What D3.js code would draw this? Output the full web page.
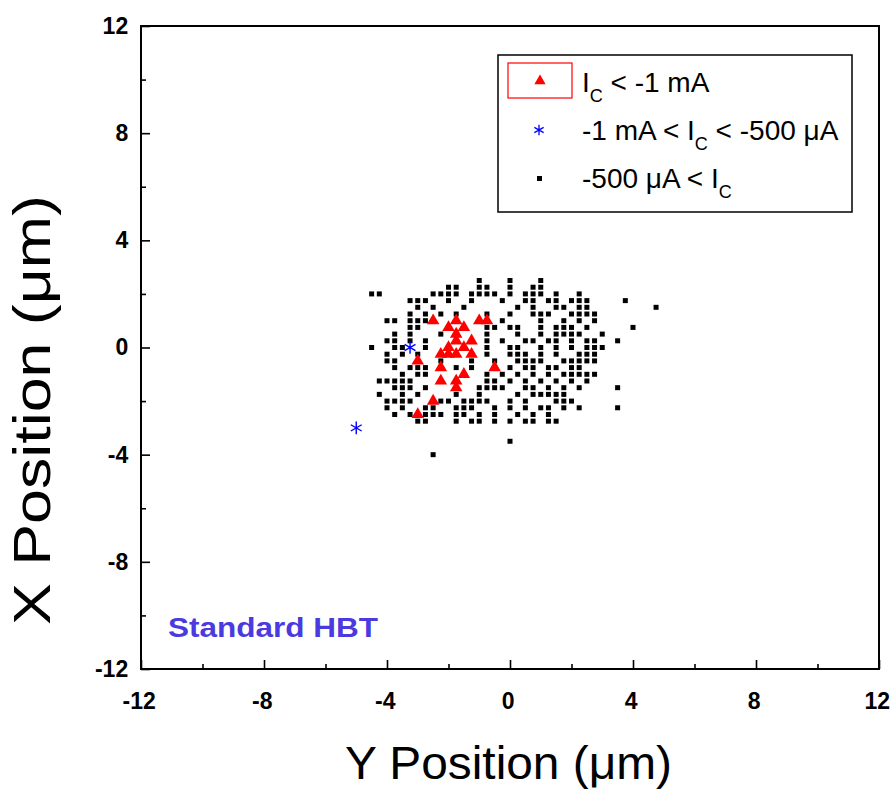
<!DOCTYPE html>
<html>
<head>
<meta charset="utf-8">
<script src="https://cdn.jsdelivr.net/npm/d3@7"></script>
<style>
  html, body { margin: 0; padding: 0; background: #fff; }
  svg { display: block; }
</style>
</head>
<body>
<svg id="chart" width="895" height="791"></svg>
<script>
// Axis ranges and tick labels (µm)
const axisDomain = [-12, 12];
const majorTicks = [-12, -8, -4, 0, 4, 8, 12];
const minorTicks = [-10, -6, -2, 2, 6, 10];

// Devices with I_C < -1 mA: [Y position, X position]
const highCurrent = [
  [-2.5, 1], [-2, 0.75], [-1.75, 1], [-1.5, 0.75], [-1, 1], [-0.75, 1],
  [-1.75, 0.5], [-1.75, 0.25], [-1.25, 0.25], [-2.25, -0.25], [-2, 0],
  [-2, -0.25], [-1.75, -0.25], [-1.5, 0], [-1.25, -0.25], [-3, -0.5],
  [-2.25, -0.75], [-0.5, -0.75], [-2.25, -1.25], [-1.5, -1], [-1.75, -1.25],
  [-1.75, -1.5], [-2.5, -2], [-3, -2.5]
];

// Devices with -1 mA < I_C < -500 µA
const midCurrent = [[-3.25, 0], [-5, -3]];

// Devices with -500 µA < I_C, listed row by row (X position, then Y positions)
const lowCurrentRows = [
  [2.5, [-1, 0, 1]],
  [2.25, [-2, -1.75, -1, -0.75, 0, 0.75, 1]],
  [2.0, [-4.5, -4.25, -2.5, -2.25, -2, -1.75, -1.25, -1, -0.75, -0.5, 0, 0.5, 0.75, 1, 1.5, 2.25]],
  [1.75, [-3.25, -3, -2.75, -2, -1.25, -0.25, 0.5, 0.75, 1.25, 1.5, 2, 2.25, 2.5, 3.75]],
  [1.5, [-3, -2.5, -1.5, 0.25, 0.75, 1.5, 1.75, 2.25, 2.5, 4.75]],
  [1.25, [-3.25, -2.75, -2.25, -1.75, -0.75, 0, 0.75, 1, 1.25, 2, 2.25, 2.5, 2.75]],
  [1.0, [-4, -3.75, -3.25, -3, -2.75, -0.25, 1, 1.75, 2.25, 2.75]],
  [0.75, [-3.25, -3, -0.75, -0.5, 0, 0.25, 1, 1.5, 1.75, 2, 2.5, 4]],
  [0.5, [-3.75, -3.25, -2.25, -0.75, 0.25, 1, 1.5, 1.75, 2, 2.25, 3]],
  [0.25, [-4, -3.75, -3.25, -2.75, -0.75, -0.25, 0.5, 0.75, 1.25, 1.5, 2, 2.5, 2.75, 3.5]],
  [0, [-4.5, -3.75, -3.5, -2.75, -0.75, 0, 0.25, 1, 1.5, 2, 2.5, 2.75, 3]],
  [-0.25, [-4, -3.5, -3, -0.75, 0, 0.25, 0.5, 1, 1.5, 2.25, 2.5, 2.75]],
  [-0.5, [-4, -3.75, -2.25, -1.25, -0.5, 0.25, 0.5, 0.75, 1, 1.75, 2, 2.25, 2.5, 2.75]],
  [-0.75, [-3.75, -3.25, -3, -2.75, -1.75, -1.25, 0, 0.5, 0.75, 1.25, 1.5, 2, 2.25]],
  [-1.0, [-3.5, -3, -2.75, -0.75, -0.25, 0.25, 0.75, 1.25, 1.75, 2, 2.25, 2.5, 2.75]],
  [-1.25, [-4.25, -4, -3.75, -3.5, -3.25, -0.75, -0.5, 0, 0.5, 1, 1.5, 2, 2.5]],
  [-1.5, [-3.75, -3.5, -3.25, -2.75, -1, -0.75, -0.5, -0.25, 0.5, 0.75, 1.25, 1.75, 2.25, 3.5]],
  [-1.75, [-4.25, -3.5, -3, -1.75, -1, 0.25, 0.75, 1, 1.25, 1.5, 1.75]],
  [-2.0, [-4, -3.75, -3.5, -3.25, -2.25, -2, -1.5, -1.25, -1, -0.75, 0, 0.5, 1.5, 1.75, 2]],
  [-2.25, [-4, -3.5, -2.75, -2.5, -1.75, -1.5, -1.25, -0.5, 0, 0.5, 1, 1.25, 1.75, 2.25, 3.5]],
  [-2.5, [-3.75, -3.25, -2.75, -2.5, -2.25, -1.75, -1.5, -1, -0.5, 0.25, 0.75, 1.25]],
  [-2.75, [-3, -2.75, -1.75, -1.25, -1, -0.5, 0, 0.5, 0.75, 1.25, 1.5]],
  [-3.5, [0]],
  [-4, [-2.5]]
];

const lowCurrent = lowCurrentRows.flatMap(([xp, ys]) => ys.map(yp => [yp, xp]));

const legendLabels = [
  { pre: "", main: "I", sub: "C", rest: " < -1 mA" },
  { pre: "-1 mA < ", main: "I", sub: "C", rest: " < -500 \u03BCA" },
  { pre: "-500 \u03BCA < ", main: "I", sub: "C", rest: "" }
];

const svg = d3.select("#chart");
const frame = { left: 141, right: 879, top: 26, bottom: 669 };

const x = d3.scaleLinear().domain(axisDomain).range([frame.left, frame.right]);
const y = d3.scaleLinear().domain(axisDomain).range([frame.bottom, frame.top]);

const fontFamily = "'Liberation Sans', Arial, sans-serif";
const plainNumber = d => String(d);

// Axes: major ticks with labels, minor ticks without, all pointing inward
const xAxisMajor = d3.axisBottom(x).tickValues(majorTicks).tickSizeInner(-9).tickSizeOuter(0)
  .tickPadding(24).tickFormat(plainNumber);
const xAxisMinor = d3.axisBottom(x).tickValues(minorTicks).tickSizeInner(-5).tickSizeOuter(0).tickFormat("");
const yAxisMajor = d3.axisLeft(y).tickValues(majorTicks).tickSizeInner(-9).tickSizeOuter(0)
  .tickPadding(22).tickFormat(plainNumber);
const yAxisMinor = d3.axisLeft(y).tickValues(minorTicks).tickSizeInner(-5).tickSizeOuter(0).tickFormat("");

function styleAxis(g) {
  g.attr("font-size", 23).attr("font-family", fontFamily).attr("font-weight", "bold");
  g.select(".domain").remove();
  g.selectAll(".tick line").attr("stroke", "#000").attr("stroke-width", 1.6);
  g.selectAll(".tick text").attr("fill", "#000");
}

const gx = svg.append("g").attr("transform", `translate(0,${frame.bottom})`).call(xAxisMajor).call(styleAxis);
gx.selectAll(".tick text").attr("dy", "0.71em").attr("dx", "-0.1em");
svg.append("g").attr("transform", `translate(0,${frame.bottom})`).call(xAxisMinor).call(styleAxis);
const gy = svg.append("g").attr("transform", `translate(${frame.left},0)`).call(yAxisMajor).call(styleAxis);
gy.selectAll(".tick text").attr("dx", "0.4em");
svg.append("g").attr("transform", `translate(${frame.left},0)`).call(yAxisMinor).call(styleAxis);

// Plot frame
svg.append("rect")
  .attr("x", frame.left).attr("y", frame.top)
  .attr("width", frame.right - frame.left).attr("height", frame.bottom - frame.top)
  .attr("fill", "none").attr("stroke", "#000").attr("stroke-width", 2);

// Axis titles
svg.append("text")
  .attr("x", 345).attr("y", 779)
  .attr("textLength", 327).attr("lengthAdjust", "spacingAndGlyphs")
  .attr("font-family", fontFamily).attr("font-size", 46)
  .text("Y Position (\u03BCm)");

svg.append("text")
  .attr("transform", `translate(50,625) rotate(-90)`)
  .attr("textLength", 430).attr("lengthAdjust", "spacingAndGlyphs")
  .attr("font-family", fontFamily).attr("font-size", 52)
  .text("X Position (\u03BCm)");

// Data marks
const plot = svg.append("g");
const sq = 5;

plot.selectAll("rect.low").data(lowCurrent).join("rect")
  .attr("class", "low")
  .attr("x", d => x(d[0]) - sq / 2).attr("y", d => y(d[1]) - sq / 2)
  .attr("width", sq).attr("height", sq).attr("fill", "#000");

const tri = d3.symbol().type(d3.symbolTriangle).size(68);
plot.selectAll("path.high").data(highCurrent).join("path")
  .attr("class", "high")
  .attr("transform", d => `translate(${x(d[0])},${y(d[1])})`)
  .attr("d", tri).attr("fill", "#ff0000");

const star = d3.symbol().type(d3.symbolAsterisk).size(110);
plot.selectAll("path.mid").data(midCurrent).join("path")
  .attr("class", "mid")
  .attr("transform", d => `translate(${x(d[0])},${y(d[1])})`)
  .attr("d", star).attr("fill", "none").attr("stroke", "#0000ff").attr("stroke-width", 1.4);

// Annotation
svg.append("text")
  .attr("x", 168).attr("y", 637)
  .attr("textLength", 210).attr("lengthAdjust", "spacingAndGlyphs")
  .attr("font-family", fontFamily).attr("font-weight", "bold").attr("font-size", 28)
  .attr("fill", "#4a3ae0")
  .text("Standard HBT");

// Legend
const legend = svg.append("g");
legend.append("rect")
  .attr("x", 498).attr("y", 55).attr("width", 354).attr("height", 157)
  .attr("fill", "#fff").attr("stroke", "#000").attr("stroke-width", 1.5);
legend.append("rect")
  .attr("x", 508).attr("y", 63).attr("width", 64).attr("height", 35)
  .attr("fill", "none").attr("stroke", "#ff0000").attr("stroke-width", 1.2);

const legendRows = [92, 140, 188];
legend.append("path")
  .attr("transform", `translate(540,${legendRows[0] - 11})`)
  .attr("d", d3.symbol().type(d3.symbolTriangle).size(55)).attr("fill", "#ff0000");
legend.append("path")
  .attr("transform", `translate(539,${legendRows[1] - 10})`)
  .attr("d", d3.symbol().type(d3.symbolAsterisk).size(80))
  .attr("fill", "none").attr("stroke", "#0000ff").attr("stroke-width", 1.3);
legend.append("rect")
  .attr("x", 537).attr("y", legendRows[2] - 12).attr("width", 5).attr("height", 5).attr("fill", "#000");

legendLabels.forEach((lab, i) => {
  const t = legend.append("text")
    .attr("x", 582).attr("y", legendRows[i])
    .attr("font-family", fontFamily).attr("font-size", 28).attr("fill", "#000");
  if (lab.pre) t.append("tspan").text(lab.pre);
  t.append("tspan").text(lab.main);
  t.append("tspan").attr("dy", 10).attr("font-size", 18).text(lab.sub);
  if (lab.rest) t.append("tspan").attr("dy", -10).text(lab.rest);
});
</script>
</body>
</html>
